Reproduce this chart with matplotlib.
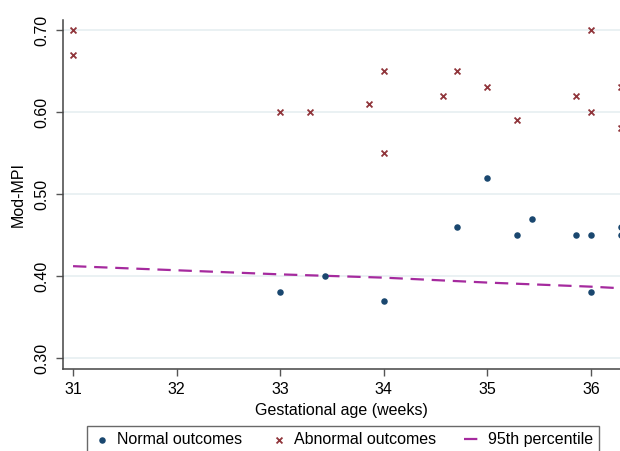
import matplotlib.pyplot as plt
import numpy as np

plt.rcParams['font.family'] = ['Liberation Sans', 'DejaVu Sans']

# Normal outcomes
normal_ga = [33.0, 33.43, 34.0, 34.71, 35.0, 35.29, 35.43, 35.86, 36.0, 36.0, 36.29, 36.29]
normal_mpi = [0.38, 0.40, 0.37, 0.46, 0.52, 0.45, 0.47, 0.45, 0.45, 0.38, 0.46, 0.45]

# Abnormal outcomes
abnormal_ga = [31.0, 31.0, 33.0, 33.29, 33.86, 34.0, 34.0, 34.57, 34.71, 35.0, 35.29,
               35.86, 36.0, 36.0, 36.29, 36.29]
abnormal_mpi = [0.70, 0.67, 0.60, 0.60, 0.61, 0.65, 0.55, 0.62, 0.65, 0.63, 0.59,
                0.62, 0.70, 0.60, 0.63, 0.58]

# 95th percentile reference curve
p95_ga = [31.0, 32.0, 33.0, 34.0, 35.0, 36.0, 36.3]
p95_mpi = [0.412, 0.407, 0.402, 0.398, 0.392, 0.387, 0.385]

xticks = [31, 32, 33, 34, 35, 36]
yticks = [0.30, 0.40, 0.50, 0.60, 0.70]

navy = '#1a476f'
maroon = '#90353b'
purple = '#a52a9e'

fig = plt.figure(figsize=(6.2, 4.51), dpi=100)
ax = fig.add_axes([63 / 620, 1 - 369 / 451, 1 - 63 / 620, (369 - 20) / 451])

for yt in yticks:
    ax.axhline(yt, color='#e6eff1', linewidth=1.2, zorder=0)

ax.plot(p95_ga, p95_mpi, color=purple, linestyle=(0, (6, 3.5)), linewidth=1.6,
        label='95th percentile', zorder=2)
ax.scatter(normal_ga, normal_mpi, s=22, color=navy, marker='o', linewidths=0,
           label='Normal outcomes', zorder=3)
ax.scatter(abnormal_ga, abnormal_mpi, s=18, color=maroon, marker='x', linewidths=1.3,
           label='Abnormal outcomes', zorder=3)

ax.set_xlim(30.903, 36.28)
ax.set_ylim(0.2866, 0.7122)
ax.set_xticks(xticks)
ax.set_yticks(yticks)
ax.set_yticklabels([f'{v:.2f}' for v in yticks], rotation=90, va='center')
ax.tick_params(axis='both', labelsize=11.5, color='#555555', length=5, width=1)
ax.tick_params(axis='x', pad=4)
ax.tick_params(axis='y', pad=5)

for side in ['top', 'right']:
    ax.spines[side].set_visible(False)
for side in ['left', 'bottom']:
    ax.spines[side].set_color('#444444')
    ax.spines[side].set_linewidth(1.1)

ax.set_xlabel('Gestational age (weeks)', fontsize=11.5, labelpad=5)
ax.set_ylabel('Mod-MPI', fontsize=11.5, labelpad=6)

handles, labels = ax.get_legend_handles_labels()
order = [1, 2, 0]
leg = fig.legend([handles[i] for i in order], [labels[i] for i in order],
                 loc='upper left', bbox_to_anchor=(87 / 620, 1 - 426 / 451),
                 ncol=3, frameon=True, fancybox=False, fontsize=11.5,
                 handlelength=1.1, handletextpad=0.35, columnspacing=1.8,
                 borderpad=0.4, borderaxespad=0, scatterpoints=1)
leg.get_frame().set_edgecolor('#444444')
leg.get_frame().set_linewidth(1.0)

fig.savefig('out.png', dpi=100)
